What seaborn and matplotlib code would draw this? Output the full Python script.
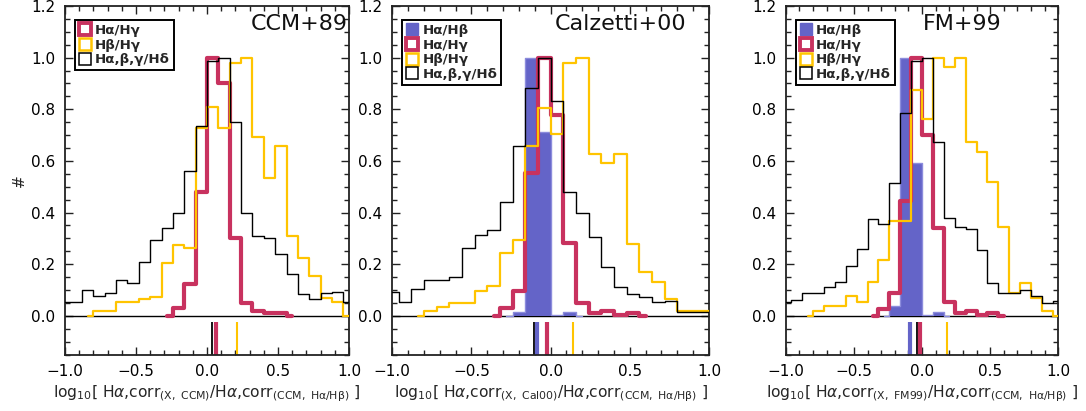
import numpy as np
import pandas as pd
import matplotlib
matplotlib.use("Agg")
import matplotlib.pyplot as plt
import seaborn as sns
from matplotlib.lines import Line2D
from matplotlib.ticker import MultipleLocator

sns.set_style("ticks")
plt.rcParams["font.family"] = ["DejaVu Sans"]
plt.rcParams["mathtext.fontset"] = "dejavusans"

# ---------------- data ----------------
BIN_CENTERS = [-1.00, -0.92, -0.84, -0.76, -0.68, -0.60, -0.52, -0.44, -0.36,
               -0.28, -0.20, -0.12, -0.04, 0.04, 0.12, 0.20, 0.28, 0.36,
               0.44, 0.52, 0.60, 0.68, 0.76, 0.84, 0.92, 1.00]
N = None

# Panel 1: CCM+89
ccm_red = [N, N, N, N, N, N, N, N, N,
           0.0, 0.032, 0.122, 0.480, 1.000, 0.900, 0.300, 0.049, 0.017,
           0.010, 0.010, 0.0, N, N, N, N, N]
ccm_yellow = [N, N, 0.0, 0.017, 0.017, 0.053, 0.053, 0.066, 0.072,
              0.206, 0.274, 0.262, 0.728, 0.809, 0.726, 0.981, 1.000, 0.693,
              0.535, 0.656, 0.309, 0.224, 0.155, 0.070, 0.052, 0.0]
ccm_black = [0.052, 0.052, 0.100, 0.075, 0.090, 0.139, 0.126, 0.210, 0.294,
             0.341, 0.400, 0.562, 0.734, 0.986, 1.000, 0.751, 0.400, 0.310,
             0.300, 0.240, 0.162, 0.084, 0.064, 0.090, 0.094, 0.055]

# Panel 2: Calzetti+00
cal_blue = [N, N, N, N, N, N, N, N, N,
            0.0, 0.013, 1.000, 0.713, 0.004, 0.016, 0.0, N, N,
            N, N, N, N, N, N, N, N]
cal_red = [N, N, N, N, N, N, N, N, 0.0,
           0.030, 0.095, 0.554, 1.000, 0.777, 0.283, 0.050, 0.010, 0.019,
           0.004, 0.010, 0.0, N, N, N, N, N]
cal_yellow = [N, N, 0.0, 0.017, 0.034, 0.049, 0.049, 0.097, 0.116,
              0.245, 0.294, 0.657, 0.803, 0.706, 0.980, 1.000, 0.625, 0.593,
              0.625, 0.277, 0.170, 0.132, 0.064, 0.017, 0.017, 0.019]
cal_black = [0.092, 0.052, 0.103, 0.138, 0.138, 0.149, 0.264, 0.313, 0.332,
             0.442, 0.658, 0.882, 1.000, 0.833, 0.480, 0.400, 0.307, 0.190,
             0.110, 0.084, 0.071, 0.052, 0.057, 0.014, 0.014, 0.015]

# Panel 3: FM+99
fm_blue = [N, N, N, N, N, N, N, N, N,
           0.0, 0.036, 1.000, 0.590, 0.004, 0.015, 0.0, N, N,
           N, N, N, N, N, N, N, N]
fm_red = [N, N, N, N, N, N, N, N, 0.0,
          0.028, 0.089, 0.446, 1.000, 0.700, 0.339, 0.054, 0.012, 0.020,
          0.004, 0.010, 0.0, N, N, N, N, N]
fm_yellow = [N, N, 0.0, 0.017, 0.036, 0.036, 0.075, 0.054, 0.129,
             0.218, 0.367, 0.367, 0.875, 0.764, 1.000, 0.964, 1.000, 0.674,
             0.636, 0.520, 0.345, 0.090, 0.128, 0.070, 0.017, 0.0]
fm_black = [0.052, 0.062, 0.088, 0.088, 0.110, 0.129, 0.192, 0.259, 0.374,
            0.356, 0.515, 0.786, 0.987, 1.000, 0.674, 0.380, 0.345, 0.336,
            0.255, 0.128, 0.090, 0.090, 0.098, 0.075, 0.049, 0.059]

# medians (short marks below zero)
ccm_medians = {"black": 0.033, "red": 0.063, "yellow": 0.213}
cal_medians = {"black": -0.103, "blue": -0.084, "red": -0.025, "yellow": 0.139}
fm_medians = {"blue": -0.088, "black": -0.039, "red": -0.015, "yellow": 0.181}

titles = ["CCM+89", "Calzetti+00", "FM+99"]
xlabel_tags = ["CCM", "Cal00", "FM99"]
label_ab = "H\u03b1/H\u03b2"
label_ag = "H\u03b1/H\u03b3"
label_bg = "H\u03b2/H\u03b3"
label_all = "H\u03b1,\u03b2,\u03b3/H\u03b4"
xticks = [-1.0, -0.5, 0.0, 0.5, 1.0]
yticks = [0.0, 0.2, 0.4, 0.6, 0.8, 1.0, 1.2]

# ---------------- style ----------------
BLUE = "#6464c8"
RED = "#c8325f"
YELLOW = "#ffc400"
BLACK = "#000000"

fig = plt.figure(figsize=(10.86, 4.11), dpi=100)
W, H = 1086.0, 411.0
ax_px = [(65.0, 284.0), (392.3, 316.7), (785.7, 272.7)]
top_px, bot_px = 6.0, 354.5


def seg(vals):
    xs = [c for c, v in zip(BIN_CENTERS, vals) if v is not None]
    ys = [v for v in vals if v is not None]
    return xs, ys


panels = [
    dict(blue=None, red=ccm_red, yellow=ccm_yellow, black=ccm_black, med=ccm_medians,
         title=titles[0], tx=0.995),
    dict(blue=cal_blue, red=cal_red, yellow=cal_yellow, black=cal_black, med=cal_medians,
         title=titles[1], tx=0.93),
    dict(blue=fm_blue, red=fm_red, yellow=fm_yellow, black=fm_black, med=fm_medians,
         title=titles[2], tx=0.792),
]

rug_h = 0.125 / 1.35
for i, p in enumerate(panels):
    left, width = ax_px[i]
    ax = fig.add_axes([left / W, 1 - bot_px / H, width / W, (bot_px - top_px) / H])

    ax.axhline(0, color=BLACK, lw=1.0, zorder=1)

    if p["blue"] is not None:
        bx, by = seg(p["blue"])
        edges = [bx[0] - 0.04] + [b + 0.04 for b in bx]
        sns.histplot(x=bx, weights=by, bins=edges, element="step", fill=True,
                     color=BLUE, alpha=1.0, linewidth=0, ax=ax, zorder=2)
        sns.lineplot(x=bx, y=by, ax=ax, color="#8c8cdc", linewidth=1.0,
                     drawstyle="steps-mid", estimator=None, sort=False, zorder=2)

    rx, ry = seg(p["red"])
    sns.lineplot(x=rx, y=ry, ax=ax, color=RED, linewidth=3.0,
                 drawstyle="steps-mid", estimator=None, sort=False, zorder=3)
    yx, yy = seg(p["yellow"])
    sns.lineplot(x=yx, y=yy, ax=ax, color=YELLOW, linewidth=1.6,
                 drawstyle="steps-mid", estimator=None, sort=False, zorder=4)
    kx, ky = seg(p["black"])
    sns.lineplot(x=kx, y=ky, ax=ax, color=BLACK, linewidth=1.0,
                 drawstyle="steps-mid", estimator=None, sort=False, zorder=5)

    rug_style = {"black": (BLACK, 1.3), "blue": (BLUE, 3.0),
                 "red": (RED, 3.0), "yellow": (YELLOW, 1.5)}
    for key, val in p["med"].items():
        c, lw = rug_style[key]
        sns.rugplot(x=[val], height=rug_h, color=c, linewidth=lw, ax=ax,
                    expand_margins=False)

    ax.set_xlim(-1.0, 1.0)
    ax.set_ylim(-0.15, 1.2)
    ax.set_xticks(xticks)
    ax.set_xticklabels([f"{t:.1f}".replace("-", "\u2212") for t in xticks])
    ax.set_yticks(yticks)
    ax.set_yticklabels([f"{t:.1f}" for t in yticks])
    ax.xaxis.set_minor_locator(MultipleLocator(0.1))
    ax.yaxis.set_minor_locator(MultipleLocator(0.05))
    ax.tick_params(which="both", direction="in", top=True, right=True,
                   colors="#222222", labelcolor="black", labelsize=11)
    ax.tick_params(which="major", length=6, width=1.0, pad=7)
    ax.tick_params(which="minor", length=3.5, width=1.0)
    for sp in ax.spines.values():
        sp.set_linewidth(1.3)
        sp.set_color("#222222")

    tag = xlabel_tags[i]
    ax.set_xlabel(r"log$_{10}$[ H$\alpha$,corr$_{\rm (X,\ " + tag +
                  r")}$/H$\alpha$,corr$_{\rm (CCM,\ H\alpha/H\beta)}$ ]",
                  fontsize=11.2, labelpad=3)
    if i == 0:
        ax.set_ylabel("#", fontsize=11)
        ax.yaxis.set_label_coords(-0.135, 0.5)
    else:
        ax.set_ylabel("")

    ax.text(p["tx"], 0.948, p["title"], transform=ax.transAxes, ha="right",
            va="center", fontsize=16, color="#111111")

    handles, labels = [], []
    if p["blue"] is not None:
        handles.append(Line2D([], [], marker="s", ls="none", markersize=9,
                              markerfacecolor=BLUE, markeredgecolor=BLUE))
        labels.append(label_ab)
    handles.append(Line2D([], [], marker="s", ls="none", markersize=8.5,
                          markerfacecolor="none", markeredgecolor=RED,
                          markeredgewidth=2.8))
    labels.append(label_ag)
    handles.append(Line2D([], [], marker="s", ls="none", markersize=8.5,
                          markerfacecolor="none", markeredgecolor=YELLOW,
                          markeredgewidth=1.8))
    labels.append(label_bg)
    handles.append(Line2D([], [], marker="s", ls="none", markersize=8.5,
                          markerfacecolor="none", markeredgecolor=BLACK,
                          markeredgewidth=1.1))
    labels.append(label_all)
    leg = ax.legend(handles, labels, loc="upper left",
                    bbox_to_anchor=(10.0 / width, 1 - 14.0 / (bot_px - top_px)),
                    borderaxespad=0, frameon=True, fancybox=False,
                    edgecolor="black", framealpha=1, handlelength=0.9,
                    handletextpad=0.3, labelspacing=0.12, borderpad=0.3,
                    prop={"size": 9.6, "weight": "bold"})
    leg.get_frame().set_linewidth(1.4)

fig.savefig("out.png", dpi=100)
